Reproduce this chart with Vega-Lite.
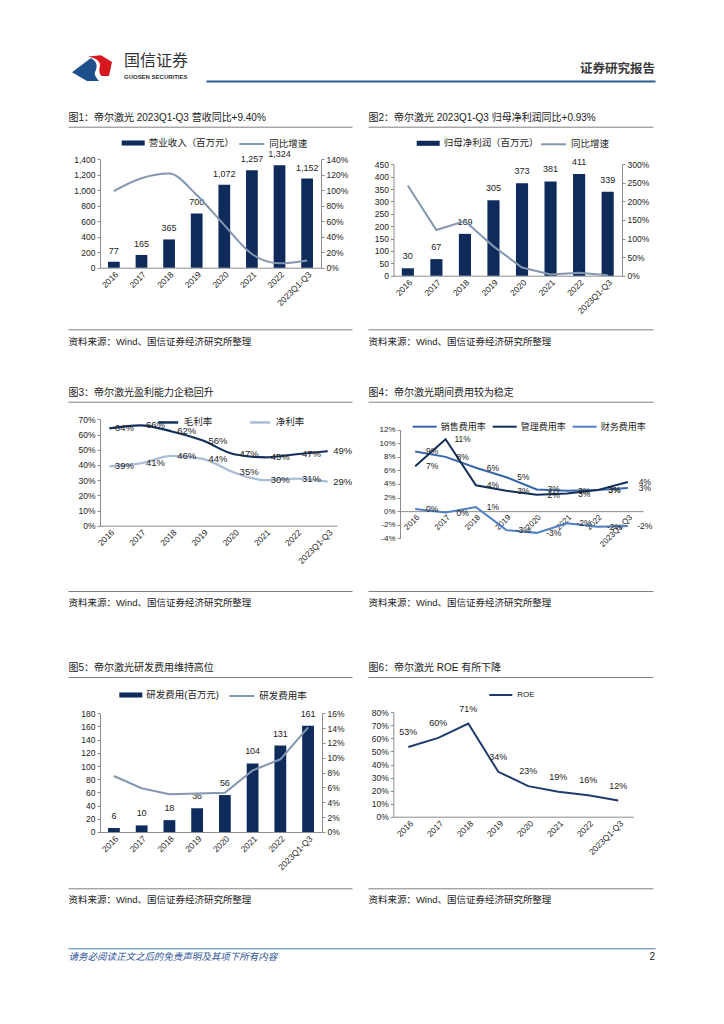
{
"$schema": "https://vega.github.io/schema/vega-lite/v6.json",
"padding": {"left": 68, "top": 52, "right": 8, "bottom": 8},
"width": 587,
"height": 912.3,
"config": {
  "background": "white",
  "view": {"stroke": null},
  "font": "Liberation Sans, Noto Sans CJK SC, sans-serif",
  "axis": {"labelFont": "Liberation Sans, Noto Sans CJK SC, sans-serif", "titleFont": "Liberation Sans, Noto Sans CJK SC, sans-serif", "labelFontSize": 8.5, "labelColor": "#222222", "domainColor": "#8c8c8c", "tickColor": "#8c8c8c", "tickSize": 3, "grid": false, "labelPadding": 2, "titleFontWeight": "normal"},
  "axisX": {"ticks": false},
  "legend": {"labelFont": "Liberation Sans, Noto Sans CJK SC, sans-serif", "labelFontSize": 9.5, "labelColor": "#222222", "padding": 0},
  "text": {"font": "Liberation Sans, Noto Sans CJK SC, sans-serif"},
  "locale": {"number": {"decimal": ".", "thousands": ",", "grouping": [3], "currency": ["", ""], "minus": "-"}}
},
"datasets": {
  "c1": [
    {"year": "2016", "rev": 77, "yoy": 0.99},
    {"year": "2017", "rev": 165, "yoy": 1.155},
    {"year": "2018", "rev": 365, "yoy": 1.215},
    {"year": "2019", "rev": 700, "yoy": 0.94},
    {"year": "2020", "rev": 1072, "yoy": 0.55},
    {"year": "2021", "rev": 1257, "yoy": 0.177},
    {"year": "2022", "rev": 1324, "yoy": 0.056},
    {"year": "2023Q1-Q3", "rev": 1152, "yoy": 0.094}],
  "c2": [
    {"year": "2016", "np": 30, "yoy": 2.43},
    {"year": "2017", "np": 67, "yoy": 1.23},
    {"year": "2018", "np": 169, "yoy": 1.47},
    {"year": "2019", "np": 305, "yoy": 0.79},
    {"year": "2020", "np": 373, "yoy": 0.22},
    {"year": "2021", "np": 381, "yoy": 0.03},
    {"year": "2022", "np": 411, "yoy": 0.08},
    {"year": "2023Q1-Q3", "np": 339, "yoy": 0.0093}],
  "c3": [
    {"year": "2016", "s": "毛利率", "v": 0.64}, {"year": "2017", "s": "毛利率", "v": 0.66}, {"year": "2018", "s": "毛利率", "v": 0.62}, {"year": "2019", "s": "毛利率", "v": 0.56},
    {"year": "2020", "s": "毛利率", "v": 0.47}, {"year": "2021", "s": "毛利率", "v": 0.45}, {"year": "2022", "s": "毛利率", "v": 0.47}, {"year": "2023Q1-Q3", "s": "毛利率", "v": 0.49},
    {"year": "2016", "s": "净利率", "v": 0.39}, {"year": "2017", "s": "净利率", "v": 0.41}, {"year": "2018", "s": "净利率", "v": 0.46}, {"year": "2019", "s": "净利率", "v": 0.44},
    {"year": "2020", "s": "净利率", "v": 0.35}, {"year": "2021", "s": "净利率", "v": 0.30}, {"year": "2022", "s": "净利率", "v": 0.31}, {"year": "2023Q1-Q3", "s": "净利率", "v": 0.29}],
  "c4": [
    {"year": "2016", "s": "销售费用率", "v": 0.088}, {"year": "2017", "s": "销售费用率", "v": 0.080}, {"year": "2018", "s": "销售费用率", "v": 0.064}, {"year": "2019", "s": "销售费用率", "v": 0.050},
    {"year": "2020", "s": "销售费用率", "v": 0.032}, {"year": "2021", "s": "销售费用率", "v": 0.030}, {"year": "2022", "s": "销售费用率", "v": 0.031}, {"year": "2023Q1-Q3", "s": "销售费用率", "v": 0.034},
    {"year": "2016", "s": "管理费用率", "v": 0.066}, {"year": "2017", "s": "管理费用率", "v": 0.106}, {"year": "2018", "s": "管理费用率", "v": 0.038}, {"year": "2019", "s": "管理费用率", "v": 0.030},
    {"year": "2020", "s": "管理费用率", "v": 0.024}, {"year": "2021", "s": "管理费用率", "v": 0.026}, {"year": "2022", "s": "管理费用率", "v": 0.031}, {"year": "2023Q1-Q3", "s": "管理费用率", "v": 0.043},
    {"year": "2016", "s": "财务费用率", "v": 0.003}, {"year": "2017", "s": "财务费用率", "v": -0.002}, {"year": "2018", "s": "财务费用率", "v": 0.006}, {"year": "2019", "s": "财务费用率", "v": -0.028},
    {"year": "2020", "s": "财务费用率", "v": -0.032}, {"year": "2021", "s": "财务费用率", "v": -0.018}, {"year": "2022", "s": "财务费用率", "v": -0.023}, {"year": "2023Q1-Q3", "s": "财务费用率", "v": -0.022}],
  "c5": [
    {"year": "2016", "rd": 6, "rate": 0.0755},
    {"year": "2017", "rd": 10, "rate": 0.059},
    {"year": "2018", "rd": 18, "rate": 0.051},
    {"year": "2019", "rd": 36, "rate": 0.052},
    {"year": "2020", "rd": 56, "rate": 0.053},
    {"year": "2021", "rd": 104, "rate": 0.083},
    {"year": "2022", "rd": 131, "rate": 0.098},
    {"year": "2023Q1-Q3", "rd": 161, "rate": 0.141}],
  "c6": [
    {"year": "2016", "roe": 0.534},
    {"year": "2017", "roe": 0.604},
    {"year": "2018", "roe": 0.714},
    {"year": "2019", "roe": 0.344},
    {"year": "2020", "roe": 0.234},
    {"year": "2021", "roe": 0.192},
    {"year": "2022", "roe": 0.164},
    {"year": "2023Q1-Q3", "roe": 0.124}]
},
"layer": [
  {"data": {"values": [{"part": "blue"}, {"part": "red"}]},
   "mark": {"type": "point", "filled": true, "size": 1600, "strokeWidth": 0, "opacity": 1},
   "encoding": {
     "x": {"datum": 24, "type": "quantitative", "scale": {"domain": [0, 587], "range": [0, 587], "nice": false, "zero": false}, "axis": null},
     "y": {"datum": 14.5, "type": "quantitative", "scale": {"domain": [0, 912.3], "range": [0, 912.3], "nice": false, "zero": false}, "axis": null},
     "shape": {"field": "part", "type": "nominal", "legend": null, "scale": {"domain": ["blue", "red"], "range": ["M-1,0.29L-0.05,-0.43C0.25,-0.25 0.3,0 0.15,0.28C0.1,0.45 0.25,0.6 0.35,0.73L-0.25,0.73Z", "M-0.2,-0.5L0.45,-0.56L1,-0.23L0.85,0.48L0.47,0.48C0.32,0.3 0.37,0.1 0.4,-0.05C0.43,-0.3 0.1,-0.45 -0.2,-0.5Z"]}},
     "color": {"field": "part", "type": "nominal", "legend": null, "scale": {"domain": ["blue", "red"], "range": ["#1d4f8c", "#d7191f"]}}}},
  {"data": {"values": [{"t": "国信证券"}]}, "mark": {"type": "text", "align": "left", "fontSize": 16, "color": "#333333"},
   "encoding": {"text": {"field": "t"},
     "x": {"datum": 56, "type": "quantitative", "scale": {"domain": [0, 587], "range": [0, 587], "nice": false, "zero": false}, "axis": null},
     "y": {"datum": 9.5, "type": "quantitative", "scale": {"domain": [0, 912.3], "range": [0, 912.3], "nice": false, "zero": false}, "axis": null}}},
  {"data": {"values": [{"t": "GUOSEN SECURITIES"}]}, "mark": {"type": "text", "align": "left", "fontSize": 6, "fontWeight": "bold", "color": "#333333"},
   "encoding": {"text": {"field": "t"},
     "x": {"datum": 56, "type": "quantitative", "scale": {"domain": [0, 587], "range": [0, 587], "nice": false, "zero": false}, "axis": null},
     "y": {"datum": 25, "type": "quantitative", "scale": {"domain": [0, 912.3], "range": [0, 912.3], "nice": false, "zero": false}, "axis": null}}},
  {"data": {"values": [{"t": "证券研究报告"}]}, "mark": {"type": "text", "align": "right", "fontSize": 12.5, "fontWeight": "bold", "color": "#3a3a3a"},
   "encoding": {"text": {"field": "t"},
     "x": {"datum": 587, "type": "quantitative", "scale": {"domain": [0, 587], "range": [0, 587], "nice": false, "zero": false}, "axis": null},
     "y": {"datum": 17, "type": "quantitative", "scale": {"domain": [0, 912.3], "range": [0, 912.3], "nice": false, "zero": false}, "axis": null}}},
  {"data": {"values": [{}]}, "mark": {"type": "text", "text": ""},
   "encoding": {"x": {"datum": 0, "type": "quantitative", "scale": {"domain": [0, 1], "range": [138, 587], "nice": false, "zero": false}, "axis": {"orient": "top", "offset": -29, "labels": false, "ticks": false, "grid": false, "title": null, "domainColor": "#2b5c9c", "domainWidth": 2}}}},

  {"data": {"values": [{}]}, "mark": {"type": "text", "text": ""},
   "encoding": {"x": {"datum": 0, "type": "quantitative", "scale": {"domain": [0, 1], "range": [0, 284], "nice": false, "zero": false}, "axis": {"orient": "top", "offset": -74.7, "labels": false, "ticks": false, "grid": false, "domainColor": "#7f7f7f", "domainWidth": 1, "title": "图1：帝尔激光 2023Q1-Q3 营收同比+9.40%", "titleX": 0, "titleAlign": "left", "titleBaseline": "bottom", "titlePadding": 4, "titleFontSize": 10, "titleColor": "#1a1a1a"}}}},
  {"data": {"values": [{}]}, "mark": {"type": "text", "text": ""},
   "encoding": {"x": {"datum": 0, "type": "quantitative", "scale": {"domain": [0, 1], "range": [300, 585], "nice": false, "zero": false}, "axis": {"orient": "top", "offset": -74.7, "labels": false, "ticks": false, "grid": false, "domainColor": "#7f7f7f", "domainWidth": 1, "title": "图2：帝尔激光 2023Q1-Q3 归母净利润同比+0.93%", "titleX": 300, "titleAlign": "left", "titleBaseline": "bottom", "titlePadding": 4, "titleFontSize": 10, "titleColor": "#1a1a1a"}}}},
  {"data": {"values": [{}]}, "mark": {"type": "text", "text": ""},
   "encoding": {"x": {"datum": 0, "type": "quantitative", "scale": {"domain": [0, 1], "range": [0, 284], "nice": false, "zero": false}, "axis": {"orient": "top", "offset": -349.7, "labels": false, "ticks": false, "grid": false, "domainColor": "#7f7f7f", "domainWidth": 1, "title": "图3：帝尔激光盈利能力企稳回升", "titleX": 0, "titleAlign": "left", "titleBaseline": "bottom", "titlePadding": 4, "titleFontSize": 10, "titleColor": "#1a1a1a"}}}},
  {"data": {"values": [{}]}, "mark": {"type": "text", "text": ""},
   "encoding": {"x": {"datum": 0, "type": "quantitative", "scale": {"domain": [0, 1], "range": [300, 585], "nice": false, "zero": false}, "axis": {"orient": "top", "offset": -349.7, "labels": false, "ticks": false, "grid": false, "domainColor": "#7f7f7f", "domainWidth": 1, "title": "图4：帝尔激光期间费用较为稳定", "titleX": 300, "titleAlign": "left", "titleBaseline": "bottom", "titlePadding": 4, "titleFontSize": 10, "titleColor": "#1a1a1a"}}}},
  {"data": {"values": [{}]}, "mark": {"type": "text", "text": ""},
   "encoding": {"x": {"datum": 0, "type": "quantitative", "scale": {"domain": [0, 1], "range": [0, 284], "nice": false, "zero": false}, "axis": {"orient": "top", "offset": -625, "labels": false, "ticks": false, "grid": false, "domainColor": "#7f7f7f", "domainWidth": 1, "title": "图5：帝尔激光研发费用维持高位", "titleX": 0, "titleAlign": "left", "titleBaseline": "bottom", "titlePadding": 4, "titleFontSize": 10, "titleColor": "#1a1a1a"}}}},
  {"data": {"values": [{}]}, "mark": {"type": "text", "text": ""},
   "encoding": {"x": {"datum": 0, "type": "quantitative", "scale": {"domain": [0, 1], "range": [300, 585], "nice": false, "zero": false}, "axis": {"orient": "top", "offset": -625, "labels": false, "ticks": false, "grid": false, "domainColor": "#7f7f7f", "domainWidth": 1, "title": "图6：帝尔激光 ROE 有所下降", "titleX": 300, "titleAlign": "left", "titleBaseline": "bottom", "titlePadding": 4, "titleFontSize": 10, "titleColor": "#1a1a1a"}}}},

  {"data": {"values": [{}]}, "mark": {"type": "text", "text": ""},
   "encoding": {"x": {"datum": 0, "type": "quantitative", "scale": {"domain": [0, 1], "range": [0, 284], "nice": false, "zero": false}, "axis": {"orient": "bottom", "offset": -635, "labels": false, "ticks": false, "grid": false, "domainColor": "#7f7f7f", "domainWidth": 1, "title": "资料来源：Wind、国信证券经济研究所整理", "titleX": 0, "titleAlign": "left", "titleBaseline": "top", "titlePadding": 7, "titleFontSize": 9.5, "titleColor": "#1a1a1a"}}}},
  {"data": {"values": [{}]}, "mark": {"type": "text", "text": ""},
   "encoding": {"x": {"datum": 0, "type": "quantitative", "scale": {"domain": [0, 1], "range": [300, 585], "nice": false, "zero": false}, "axis": {"orient": "bottom", "offset": -635, "labels": false, "ticks": false, "grid": false, "domainColor": "#7f7f7f", "domainWidth": 1, "title": "资料来源：Wind、国信证券经济研究所整理", "titleX": 300, "titleAlign": "left", "titleBaseline": "top", "titlePadding": 7, "titleFontSize": 9.5, "titleColor": "#1a1a1a"}}}},
  {"data": {"values": [{}]}, "mark": {"type": "text", "text": ""},
   "encoding": {"x": {"datum": 0, "type": "quantitative", "scale": {"domain": [0, 1], "range": [0, 284], "nice": false, "zero": false}, "axis": {"orient": "bottom", "offset": -373.3, "labels": false, "ticks": false, "grid": false, "domainColor": "#7f7f7f", "domainWidth": 1, "title": "资料来源：Wind、国信证券经济研究所整理", "titleX": 0, "titleAlign": "left", "titleBaseline": "top", "titlePadding": 6.5, "titleFontSize": 9.5, "titleColor": "#1a1a1a"}}}},
  {"data": {"values": [{}]}, "mark": {"type": "text", "text": ""},
   "encoding": {"x": {"datum": 0, "type": "quantitative", "scale": {"domain": [0, 1], "range": [300, 585], "nice": false, "zero": false}, "axis": {"orient": "bottom", "offset": -373.3, "labels": false, "ticks": false, "grid": false, "domainColor": "#7f7f7f", "domainWidth": 1, "title": "资料来源：Wind、国信证券经济研究所整理", "titleX": 300, "titleAlign": "left", "titleBaseline": "top", "titlePadding": 6.5, "titleFontSize": 9.5, "titleColor": "#1a1a1a"}}}},
  {"data": {"values": [{}]}, "mark": {"type": "text", "text": ""},
   "encoding": {"x": {"datum": 0, "type": "quantitative", "scale": {"domain": [0, 1], "range": [0, 284], "nice": false, "zero": false}, "axis": {"orient": "bottom", "offset": -76, "labels": false, "ticks": false, "grid": false, "domainColor": "#7f7f7f", "domainWidth": 1, "title": "资料来源：Wind、国信证券经济研究所整理", "titleX": 0, "titleAlign": "left", "titleBaseline": "top", "titlePadding": 6.5, "titleFontSize": 9.5, "titleColor": "#1a1a1a"}}}},
  {"data": {"values": [{}]}, "mark": {"type": "text", "text": ""},
   "encoding": {"x": {"datum": 0, "type": "quantitative", "scale": {"domain": [0, 1], "range": [300, 585], "nice": false, "zero": false}, "axis": {"orient": "bottom", "offset": -76, "labels": false, "ticks": false, "grid": false, "domainColor": "#7f7f7f", "domainWidth": 1, "title": "资料来源：Wind、国信证券经济研究所整理", "titleX": 300, "titleAlign": "left", "titleBaseline": "top", "titlePadding": 6.5, "titleFontSize": 9.5, "titleColor": "#1a1a1a"}}}},
  {"data": {"values": [{}]}, "mark": {"type": "text", "text": ""},
   "encoding": {"x": {"datum": 0, "type": "quantitative", "scale": {"domain": [0, 1], "range": [0, 587], "nice": false, "zero": false}, "axis": {"orient": "bottom", "offset": -16, "labels": false, "ticks": false, "grid": false, "domainColor": "#4a77ac", "domainWidth": 1, "title": "请务必阅读正文之后的免责声明及其项下所有内容", "titleX": 0, "titleAlign": "left", "titleBaseline": "top", "titlePadding": 3, "titleFontSize": 9.5, "titleFontStyle": "italic", "titleColor": "#2f5597"}}}},
  {"data": {"values": [{"t": "2"}]}, "mark": {"type": "text", "align": "right", "fontSize": 10, "color": "#222222"},
   "encoding": {"text": {"field": "t"},
     "x": {"datum": 587, "type": "quantitative", "scale": {"domain": [0, 587], "range": [0, 587], "nice": false, "zero": false}, "axis": null},
     "y": {"datum": 905, "type": "quantitative", "scale": {"domain": [0, 912.3], "range": [0, 912.3], "nice": false, "zero": false}, "axis": null}}},

  {"data": {"name": "c1"}, "mark": {"type": "bar"},
   "encoding": {
     "x": {"field": "year", "type": "nominal", "sort": null, "title": null, "scale": {"range": [32, 253], "paddingInner": 0.575, "paddingOuter": 0.29}, "axis": {"orient": "bottom", "offset": -696.6, "labelAngle": -45}},
     "y": {"field": "rev", "type": "quantitative", "title": null, "scale": {"domain": [0, 1400], "range": [215.7, 107.3]}, "axis": {"orient": "left", "offset": -32, "values": [0, 200, 400, 600, 800, 1000, 1200, 1400], "format": ",.0f"}},
     "fill": {"datum": "营业收入（百万元）", "type": "nominal", "scale": {"range": ["#0f2b5b"]}, "legend": {"title": null, "orient": "none", "legendX": 53.7, "legendY": 79.5, "symbolType": "M-1,-0.22H1V0.22H-1Z", "symbolSize": 529, "symbolStrokeWidth": 0}}}},
  {"data": {"name": "c1"}, "mark": {"type": "text", "baseline": "bottom", "dy": -6, "fontSize": 9, "color": "#222222"},
   "encoding": {
     "x": {"field": "year", "type": "nominal", "sort": null, "scale": {"range": [32, 253], "paddingInner": 0.575, "paddingOuter": 0.29}, "axis": null},
     "y": {"field": "rev", "type": "quantitative", "scale": {"domain": [0, 1400], "range": [215.7, 107.3]}, "axis": null},
     "text": {"field": "rev", "type": "quantitative", "format": ",.0f"}}},
  {"data": {"name": "c1"}, "mark": {"type": "line", "interpolate": "monotone", "strokeWidth": 2},
   "encoding": {
     "x": {"field": "year", "type": "nominal", "sort": null, "scale": {"range": [32, 253], "paddingInner": 0.575, "paddingOuter": 0.29}, "axis": null},
     "y": {"field": "yoy", "type": "quantitative", "title": null, "scale": {"domain": [0, 1.4], "range": [215.7, 107.3]}, "axis": {"orient": "right", "offset": -334, "values": [0, 0.2, 0.4, 0.6, 0.8, 1, 1.2, 1.4], "format": ".0%"}},
     "stroke": {"datum": "同比增速", "type": "nominal", "scale": {"range": ["#8497b0"]}, "legend": {"title": null, "orient": "none", "legendX": 170.3, "legendY": 78.5, "symbolType": "stroke", "symbolSize": 625, "symbolStrokeWidth": 2}}}},

  {"data": {"name": "c2"}, "mark": {"type": "bar"},
   "encoding": {
     "x": {"field": "year", "type": "nominal", "sort": null, "title": null, "scale": {"range": [325.5, 554], "paddingInner": 0.575, "paddingOuter": 0.29}, "axis": {"orient": "bottom", "offset": -688.6, "labelAngle": -45}},
     "y": {"field": "np", "type": "quantitative", "title": null, "scale": {"domain": [0, 450], "range": [223.7, 112.3]}, "axis": {"orient": "left", "offset": -325.5, "values": [0, 50, 100, 150, 200, 250, 300, 350, 400, 450]}},
     "fill": {"datum": "归母净利润（百万元）", "type": "nominal", "scale": {"range": ["#0f2b5b"]}, "legend": {"title": null, "orient": "none", "legendX": 348.7, "legendY": 79.8, "symbolType": "M-1,-0.22H1V0.22H-1Z", "symbolSize": 529, "symbolStrokeWidth": 0}}}},
  {"data": {"name": "c2"}, "mark": {"type": "text", "baseline": "bottom", "dy": -7, "fontSize": 9, "color": "#222222"},
   "encoding": {
     "x": {"field": "year", "type": "nominal", "sort": null, "scale": {"range": [325.5, 554], "paddingInner": 0.575, "paddingOuter": 0.29}, "axis": null},
     "y": {"field": "np", "type": "quantitative", "scale": {"domain": [0, 450], "range": [223.7, 112.3]}, "axis": null},
     "text": {"field": "np", "type": "quantitative"}}},
  {"data": {"name": "c2"}, "mark": {"type": "line", "strokeWidth": 2},
   "encoding": {
     "x": {"field": "year", "type": "nominal", "sort": null, "scale": {"range": [325.5, 554], "paddingInner": 0.575, "paddingOuter": 0.29}, "axis": null},
     "y": {"field": "yoy", "type": "quantitative", "title": null, "scale": {"domain": [0, 3], "range": [223.7, 112.3]}, "axis": {"orient": "right", "offset": -33, "values": [0, 0.5, 1, 1.5, 2, 2.5, 3], "format": ".0%"}},
     "stroke": {"datum": "同比增速", "type": "nominal", "scale": {"range": ["#8497b0"]}, "legend": {"title": null, "orient": "none", "legendX": 472, "legendY": 78.8, "symbolType": "stroke", "symbolSize": 625, "symbolStrokeWidth": 2}}}},

  {"data": {"name": "c3"}, "mark": {"type": "line", "interpolate": "monotone", "strokeWidth": 2.2},
   "encoding": {
     "x": {"field": "year", "type": "ordinal", "sort": null, "title": null, "scale": {"type": "point", "padding": 0.3, "range": [32, 269]}, "axis": {"orient": "bottom", "offset": -438.6, "labelAngle": -45}},
     "y": {"field": "v", "type": "quantitative", "title": null, "scale": {"domain": [0, 0.7], "range": [473.7, 367.3]}, "axis": {"orient": "left", "offset": -32, "values": [0, 0.1, 0.2, 0.3, 0.4, 0.5, 0.6, 0.7], "format": ".0%"}},
     "color": {"field": "s", "type": "nominal", "scale": {"domain": ["毛利率", "净利率"], "range": ["#132f5e", "#a9bdd6"]}, "legend": {"title": null, "orient": "none", "direction": "horizontal", "legendX": 88.7, "legendY": 358.7, "symbolType": "stroke", "symbolSize": 400, "symbolStrokeWidth": 2.5, "columnPadding": 32}}}},
  {"data": {"name": "c3"}, "mark": {"type": "text", "dx": 15, "fontSize": 9.5, "color": "#222222"},
   "encoding": {
     "x": {"field": "year", "type": "ordinal", "sort": null, "scale": {"type": "point", "padding": 0.3, "range": [32, 269]}, "axis": null},
     "y": {"field": "v", "type": "quantitative", "scale": {"domain": [0, 0.7], "range": [473.7, 367.3]}, "axis": null},
     "text": {"field": "v", "type": "quantitative", "format": ".0%"}}},

  {"data": {"name": "c4"}, "mark": {"type": "line", "strokeWidth": 2},
   "encoding": {
     "x": {"field": "year", "type": "ordinal", "sort": null, "title": null, "scale": {"type": "point", "padding": 0.5, "range": [332, 575]}, "axis": {"orient": "bottom", "offset": -453.15, "labelAngle": -45, "labelFontSize": 8}},
     "y": {"field": "v", "type": "quantitative", "title": null, "scale": {"domain": [-0.04, 0.12], "range": [486.3, 377.7]}, "axis": {"orient": "left", "offset": -332, "values": [-0.04, -0.02, 0, 0.02, 0.04, 0.06, 0.08, 0.1, 0.12], "format": ".0%", "labelFontSize": 8}},
     "color": {"field": "s", "type": "nominal", "scale": {"domain": ["销售费用率", "管理费用率", "财务费用率"], "range": ["#3767ab", "#112f58", "#4f80c4"]}, "legend": {"title": null, "orient": "none", "direction": "horizontal", "legendX": 343.7, "legendY": 361.7, "symbolType": "stroke", "symbolSize": 576, "symbolStrokeWidth": 2, "columnPadding": 2, "labelOffset": 3, "labelFontSize": 9}}}},
  {"data": {"name": "c4"}, "mark": {"type": "text", "dx": 17, "fontSize": 8.5, "color": "#222222"},
   "encoding": {
     "x": {"field": "year", "type": "ordinal", "sort": null, "scale": {"type": "point", "padding": 0.5, "range": [332, 575]}, "axis": null},
     "y": {"field": "v", "type": "quantitative", "scale": {"domain": [-0.04, 0.12], "range": [486.3, 377.7]}, "axis": null},
     "text": {"field": "v", "type": "quantitative", "format": ".0%"}}},

  {"data": {"name": "c5"}, "mark": {"type": "bar"},
   "encoding": {
     "x": {"field": "year", "type": "nominal", "sort": null, "title": null, "scale": {"range": [32, 254], "paddingInner": 0.575, "paddingOuter": 0.29}, "axis": {"orient": "bottom", "offset": -132.3, "labelAngle": -45}},
     "y": {"field": "rd", "type": "quantitative", "title": null, "scale": {"domain": [0, 180], "range": [780, 661.3]}, "axis": {"orient": "left", "offset": -32, "values": [0, 20, 40, 60, 80, 100, 120, 140, 160, 180]}},
     "fill": {"datum": "研发费用(百万元)", "type": "nominal", "scale": {"range": ["#0f2b5b"]}, "legend": {"title": null, "orient": "none", "legendX": 51.3, "legendY": 631.5, "symbolType": "M-1,-0.22H1V0.22H-1Z", "symbolSize": 529, "symbolStrokeWidth": 0}}}},
  {"data": {"name": "c5"}, "mark": {"type": "text", "baseline": "bottom", "dy": -7, "fontSize": 9, "color": "#222222"},
   "encoding": {
     "x": {"field": "year", "type": "nominal", "sort": null, "scale": {"range": [32, 254], "paddingInner": 0.575, "paddingOuter": 0.29}, "axis": null},
     "y": {"field": "rd", "type": "quantitative", "scale": {"domain": [0, 180], "range": [780, 661.3]}, "axis": null},
     "text": {"field": "rd", "type": "quantitative"}}},
  {"data": {"name": "c5"}, "mark": {"type": "line", "strokeWidth": 2},
   "encoding": {
     "x": {"field": "year", "type": "nominal", "sort": null, "scale": {"range": [32, 254], "paddingInner": 0.575, "paddingOuter": 0.29}, "axis": null},
     "y": {"field": "rate", "type": "quantitative", "title": null, "scale": {"domain": [0, 0.16], "range": [780, 661.3]}, "axis": {"orient": "right", "offset": -333, "values": [0, 0.02, 0.04, 0.06, 0.08, 0.1, 0.12, 0.14, 0.16], "format": ".0%"}},
     "stroke": {"datum": "研发费用率", "type": "nominal", "scale": {"range": ["#8497b0"]}, "legend": {"title": null, "orient": "none", "legendX": 160.3, "legendY": 630.5, "symbolType": "stroke", "symbolSize": 625, "symbolStrokeWidth": 2}}}},

  {"data": {"name": "c6"}, "mark": {"type": "line", "strokeWidth": 2},
   "encoding": {
     "x": {"field": "year", "type": "ordinal", "sort": null, "title": null, "scale": {"type": "point", "padding": 0.5, "range": [325.3, 565.3]}, "axis": {"orient": "bottom", "offset": -147.6, "labelAngle": -45}},
     "y": {"field": "roe", "type": "quantitative", "title": null, "scale": {"domain": [0, 0.8], "range": [764.7, 660.3]}, "axis": {"orient": "left", "offset": -325.3, "values": [0, 0.1, 0.2, 0.3, 0.4, 0.5, 0.6, 0.7, 0.8], "format": ".0%"}},
     "stroke": {"datum": "ROE", "type": "nominal", "scale": {"range": ["#1f3b6e"]}, "legend": {"title": null, "orient": "none", "legendX": 420.3, "legendY": 630.5, "symbolType": "stroke", "symbolSize": 529, "symbolStrokeWidth": 2, "labelFontSize": 8}}}},
  {"data": {"name": "c6"}, "mark": {"type": "text", "dy": -15, "fontSize": 9, "color": "#222222"},
   "encoding": {
     "x": {"field": "year", "type": "ordinal", "sort": null, "scale": {"type": "point", "padding": 0.5, "range": [325.3, 565.3]}, "axis": null},
     "y": {"field": "roe", "type": "quantitative", "scale": {"domain": [0, 0.8], "range": [764.7, 660.3]}, "axis": null},
     "text": {"field": "roe", "type": "quantitative", "format": ".0%"}}}
],
"resolve": {"scale": {"x": "independent", "y": "independent", "color": "independent", "fill": "independent", "stroke": "independent", "shape": "independent"}, "axis": {"x": "independent", "y": "independent"}}
}
